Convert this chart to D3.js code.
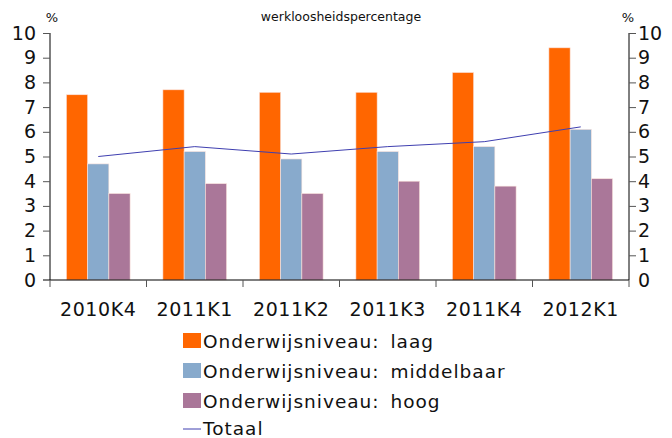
<!DOCTYPE html>
<html>
<head>
<meta charset="utf-8">
<script src="https://cdn.jsdelivr.net/npm/d3@7"></script>
<style>
  body { margin: 0; background: #fff; }
  text { font-family: "DejaVu Sans", sans-serif; fill: #111; }
</style>
</head>
<body>
<div id="chart"></div>
<script>
// kwartalen
var quarters = ['2010K4', '2011K1', '2011K2', '2011K3', '2011K4', '2012K1'];
var laag = [7.5, 7.7, 7.6, 7.6, 8.4, 9.4];
var middelbaar = [4.7, 5.2, 4.9, 5.2, 5.4, 6.1];
var hoog = [3.5, 3.9, 3.5, 4.0, 3.8, 4.1];
var totaal = [5.0, 5.4, 5.1, 5.4, 5.6, 6.2];
var yTicks = [0, 1, 2, 3, 4, 5, 6, 7, 8, 9, 10];
var seriesNames = ['Onderwijsniveau: laag', 'Onderwijsniveau: middelbaar', 'Onderwijsniveau: hoog'];
var colors = ['#ff6600', '#88aacc', '#aa7799'];
var lineColor = '#3f3fb0';

var width = 672, height = 438;
var mLeft = 50, mRight = 629, mTop = 33, mBottom = 280;

var svg = d3.select('#chart').append('svg')
    .attr('width', width)
    .attr('height', height);

var x = d3.scaleBand().domain(quarters).range([mLeft, mRight]);
var xs = d3.scaleBand().domain(d3.range(3)).range([0, x.bandwidth() * 0.66]);
var y = d3.scaleLinear().domain([0, 10]).range([mBottom, mTop]);

var series = [laag, middelbaar, hoog];

// bars
series.forEach(function(vals, s) {
    svg.append('g').selectAll('rect')
        .data(vals)
        .enter().append('rect')
            .attr('x', function(d, i) { return x(quarters[i]) + x.bandwidth() * 0.17 + xs(s); })
            .attr('y', function(d) { return y(d); })
            .attr('width', xs.bandwidth())
            .attr('height', function(d) { return y(0) - y(d); })
            .attr('fill', colors[s])
            .attr('stroke', '#fbe3dc')
            .attr('stroke-width', 0.6);
});

// totaal line
var line = d3.line()
    .x(function(d, i) { return x(quarters[i]) + x.bandwidth() / 2; })
    .y(function(d) { return y(d); });
svg.append('path')
    .datum(totaal)
    .attr('d', line)
    .attr('fill', 'none')
    .attr('stroke', lineColor)
    .attr('stroke-width', 1);

// axes
var yl = svg.append('g').attr('transform', 'translate(' + mLeft + ',0)')
    .call(d3.axisLeft(y).tickValues(yTicks).tickSize(7).tickPadding(7).tickFormat(d3.format('d')));
var yr = svg.append('g').attr('transform', 'translate(' + mRight + ',0)')
    .call(d3.axisRight(y).tickValues(yTicks).tickSize(7).tickPadding(2).tickFormat(d3.format('d')));
[yl, yr].forEach(function(g) {
    g.select('.domain').attr('d', 'M0,' + mTop + 'V' + mBottom).attr('stroke', '#000');
    g.selectAll('text').attr('font-size', 19).attr('font-family', 'DejaVu Sans').attr('fill', '#111');
    g.selectAll('line').attr('stroke', '#555');
});
yl.selectAll('.tick').filter(function(d) { return d === 0; }).select('line').remove();
yr.selectAll('.tick').filter(function(d) { return d === 0; }).select('line').remove();

var xa = svg.append('g').attr('transform', 'translate(0,' + mBottom + ')');
xa.append('line').attr('x1', mLeft - 7).attr('x2', mRight).attr('stroke', '#000').attr('stroke-width', 1.2);
xa.selectAll('.bt')
    .data(d3.range(quarters.length + 1))
    .enter().append('line')
        .attr('x1', function(i) { return mLeft + i * x.step(); })
        .attr('x2', function(i) { return mLeft + i * x.step(); })
        .attr('y1', 0).attr('y2', 7)
        .attr('stroke', '#555');
xa.selectAll('text')
    .data(quarters)
    .enter().append('text')
        .attr('x', function(d) { return x(d) + x.bandwidth() / 2; })
        .attr('y', 36)
        .attr('text-anchor', 'middle')
        .attr('font-size', 19)
        .attr('letter-spacing', 0.6)
        .text(function(d) { return d; });

// titles
svg.append('text').attr('x', 341).attr('y', 21).attr('text-anchor', 'middle')
    .attr('font-size', 12.5).text('werkloosheidspercentage');
svg.append('text').attr('x', 52).attr('y', 22).attr('text-anchor', 'middle')
    .attr('font-size', 13).text('%');
svg.append('text').attr('x', 628).attr('y', 22).attr('text-anchor', 'middle')
    .attr('font-size', 13).text('%');

// legend
var lg = svg.append('g').attr('transform', 'translate(183,0)');
seriesNames.forEach(function(n, i) {
    var cy = 341 + i * 30;
    lg.append('rect').attr('x', 0).attr('y', cy - 8).attr('width', 18).attr('height', 15).attr('fill', colors[i]);
    lg.append('text').attr('x', 20).attr('y', cy + 7).attr('font-size', 18.5)
        .attr('letter-spacing', 1).attr('word-spacing', 4).text(n);
});
lg.append('line').attr('x1', 0).attr('x2', 18).attr('y1', 429).attr('y2', 429)
    .attr('stroke', lineColor).attr('stroke-width', 1);
lg.append('text').attr('x', 20).attr('y', 435).attr('font-size', 18.5)
    .attr('letter-spacing', 1).text('Totaal');
</script>
</body>
</html>
